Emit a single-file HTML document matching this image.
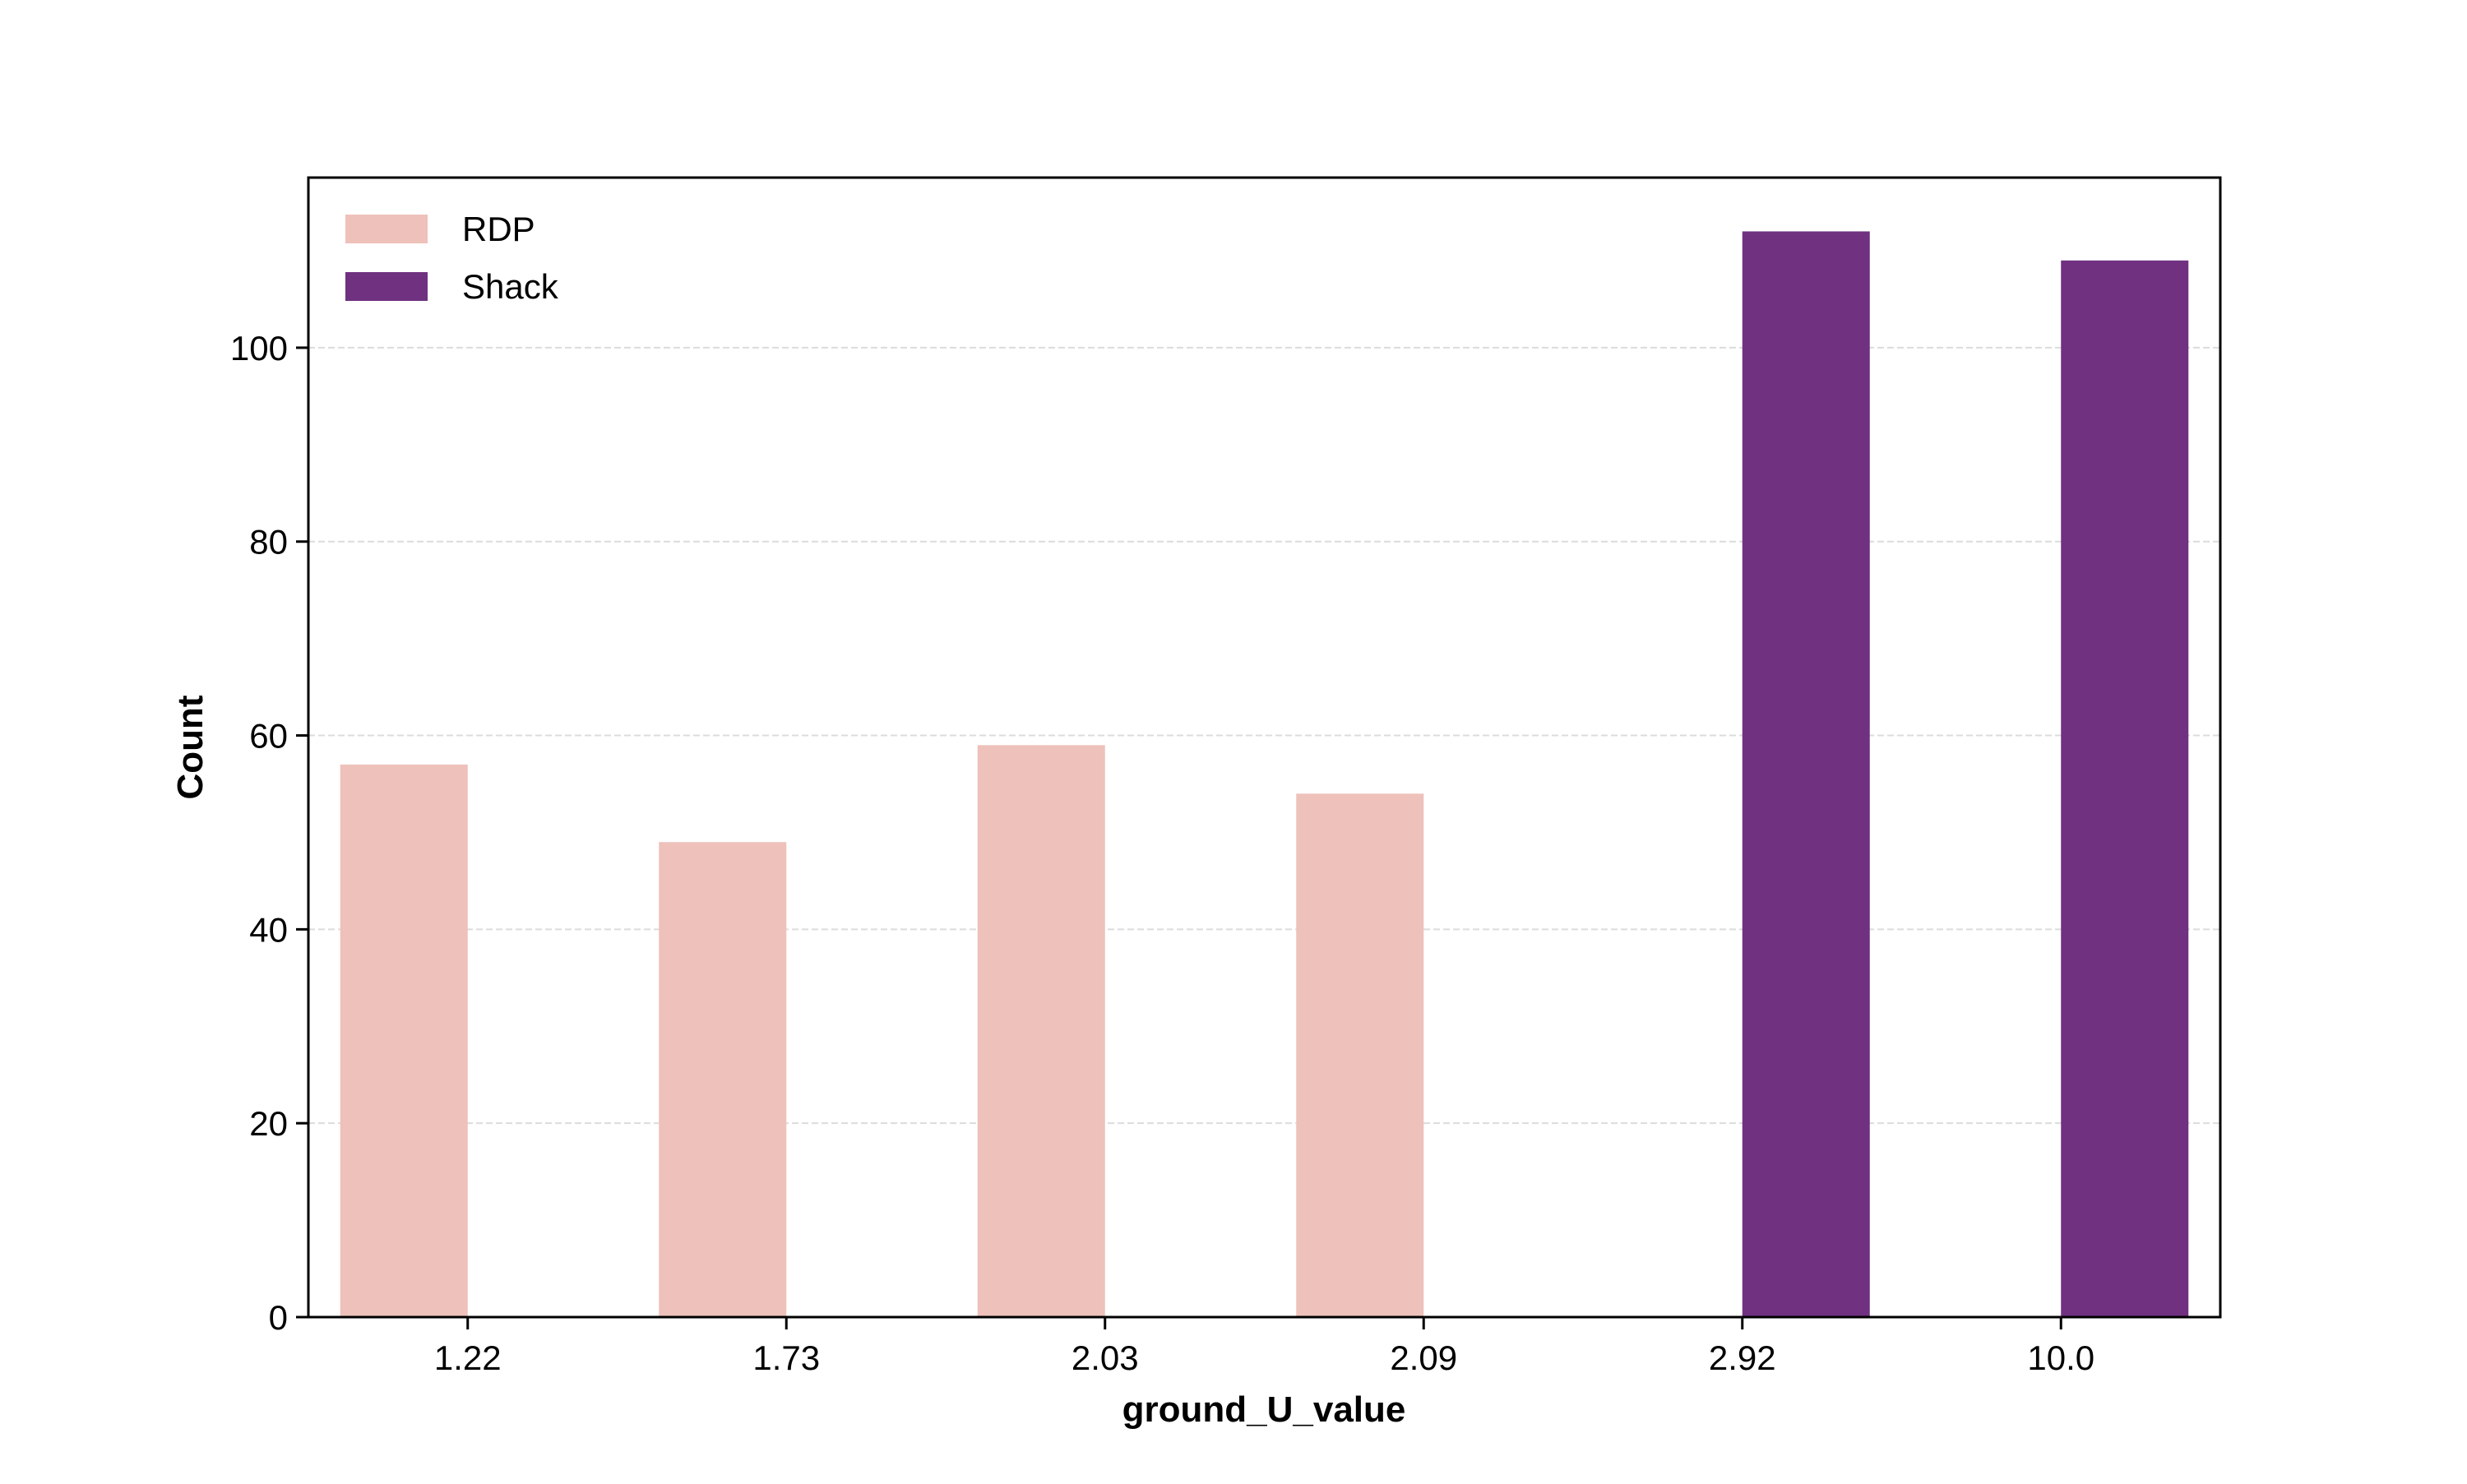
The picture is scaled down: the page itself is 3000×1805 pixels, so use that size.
<!DOCTYPE html>
<html><head><meta charset="utf-8"><style>
html,body{margin:0;padding:0;background:#fff;}
svg text{font-family:"Liberation Sans",sans-serif;}
</style></head><body>
<svg width="3000" height="1800" viewBox="0 0 3000 1800" xmlns="http://www.w3.org/2000/svg">
<g id="grid"></g>
<g id="bars"></g>
<g id="axes"></g>
<g>
  <rect x="420" y="261" width="100" height="35" fill="#eec1bb"/>
  <text x="562" y="293" font-size="42">RDP</text>
  <rect x="420" y="331" width="100" height="35" fill="#6f3180"/>
  <text x="562" y="363" font-size="42">Shack</text>
</g>
<text x="1537" y="1729" font-size="44" font-weight="bold" text-anchor="middle">ground_U_value</text>
<text transform="translate(246,909) rotate(-90)" font-size="44" font-weight="bold" text-anchor="middle">Count</text>
</svg>
<script>
const categories = ["1.22","1.73","2.03","2.09","2.92","10.0"];
const rdpValues = [57,49,59,54,0,0];
const shackValues = [0,0,0,0,112,109];
const yTicks = [0,20,40,60,80,100];

const L=375,R=2700,T=216,B=1602,YMAX=117.55;
const NS="http://www.w3.org/2000/svg";
const step=(R-L)/categories.length;
const xc=i=>L+step*(i+0.5);
const y=v=>B-(v/YMAX)*(B-T);
function mk(tag,attrs,parent){const e=document.createElementNS(NS,tag);for(const k in attrs)e.setAttribute(k,attrs[k]);parent.appendChild(e);return e;}
const grid=document.getElementById('grid'),bars=document.getElementById('bars'),axes=document.getElementById('axes');
yTicks.forEach(t=>{
  if(t>0){const g=mk('line',{x1:L,x2:R,y1:y(t),y2:y(t),stroke:'#dcdcdc','stroke-width':2,'stroke-dasharray':'8,4'},grid);
  
  }
  const tk=mk('line',{x1:L-15,x2:L,y1:y(t),y2:y(t),stroke:'#000','stroke-width':3},axes);
  
  
  const tx=mk('text',{x:L-25,y:y(t)+15,'font-size':42,'text-anchor':'end'},axes);
  tx.textContent=t;
  
  
});
const bw=step*0.4;
categories.forEach((c,i)=>{
  if(rdpValues[i]>0){const b=mk('rect',{x:xc(i)-bw,y:y(rdpValues[i]),width:bw,height:B-y(rdpValues[i]),fill:'#eec1bb'},bars);
  
  }
  if(shackValues[i]>0){const b=mk('rect',{x:xc(i),y:y(shackValues[i]),width:bw,height:B-y(shackValues[i]),fill:'#6f3180'},bars);
  
  }
  const tk=mk('line',{x1:xc(i),x2:xc(i),y1:B,y2:B+15,stroke:'#000','stroke-width':3},axes);
  
  
  const tx=mk('text',{x:xc(i),y:B+64,'font-size':42,'text-anchor':'middle'},axes);
  tx.textContent=c;
  
  
});
const fr=mk('rect',{x:L,y:T,width:R-L,height:B-T,fill:'none',stroke:'#000','stroke-width':3},axes);


</script>
</body></html>
